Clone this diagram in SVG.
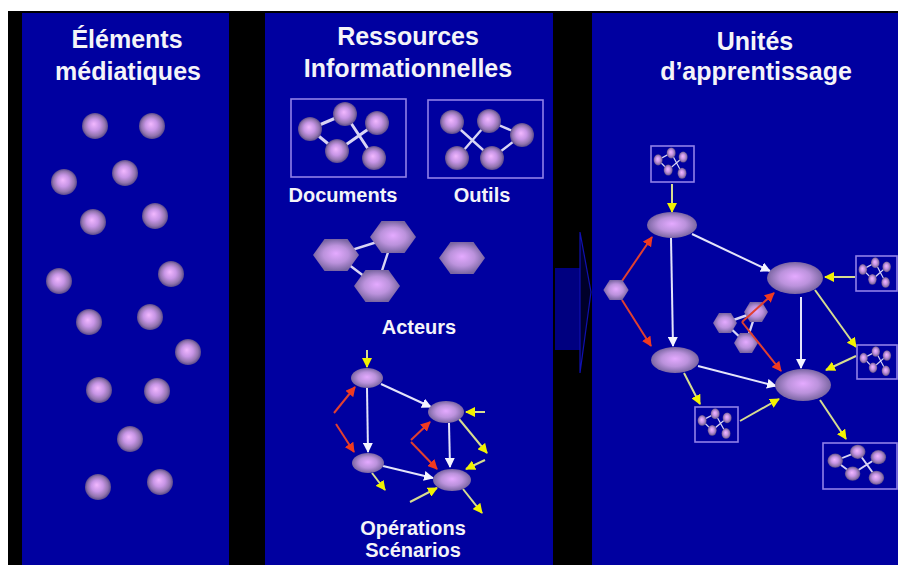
<svg xmlns="http://www.w3.org/2000/svg" xmlns:xlink="http://www.w3.org/1999/xlink" width="898" height="565" viewBox="0 0 898 565">
<style>
.t{font-family:"Liberation Sans",Arial,sans-serif;font-weight:bold;fill:#f4f4f8;text-anchor:middle}
.h{font-size:25px}
.l{font-size:20px}
.panel{fill:#0000a0}
.box{fill:none;stroke:#9080e8;stroke-width:1.6}
.lk{stroke:#d8d4f4;stroke-width:2.4;fill:none}
.aw{stroke:#e4e4fa;stroke-width:2;fill:none}
.ay{stroke:#d6dc90;stroke-width:2;fill:none}
.ar{stroke:#e04030;stroke-width:2;fill:none}
.sp{fill:url(#gS)}
.nd{fill:url(#gE)}
</style>
<defs>
<radialGradient id="gS" cx="50%" cy="50%" r="50%" fx="45%" fy="42%">
<stop offset="0" stop-color="#f2b8ff"/>
<stop offset="0.45" stop-color="#c896e6"/>
<stop offset="0.8" stop-color="#9274ae"/>
<stop offset="1" stop-color="#5a4a8c"/>
</radialGradient>
<radialGradient id="gE" cx="50%" cy="50%" r="50%" fx="50%" fy="45%">
<stop offset="0" stop-color="#e4aaff"/>
<stop offset="0.55" stop-color="#bb92dc"/>
<stop offset="1" stop-color="#7a66a2"/>
</radialGradient>
<polygon id="hx" points="-23,0 -11.5,-16 11.5,-16 23,0 11.5,16 -11.5,16" fill="url(#gE)"/>
<symbol id="mol" viewBox="0 0 115 78" preserveAspectRatio="none">
<path d="M19,30 L54,15 M19,30 L46,52 M54,15 L83,59 M46,52 L86,24" stroke="#d8d4f4" stroke-width="3" fill="none"/>
<circle cx="19" cy="30" r="12" class="sp"/>
<circle cx="54" cy="15" r="12" class="sp"/>
<circle cx="86" cy="24" r="12" class="sp"/>
<circle cx="46" cy="52" r="12" class="sp"/>
<circle cx="83" cy="59" r="12" class="sp"/>
</symbol>
<marker id="mw" viewBox="0 0 10 10" refX="9" refY="5" markerWidth="10" markerHeight="10" markerUnits="userSpaceOnUse" orient="auto"><path d="M0,0 L10,5 L0,10 z" fill="#f4f4ff"/></marker>
<marker id="my" viewBox="0 0 10 10" refX="9" refY="5" markerWidth="10" markerHeight="10" markerUnits="userSpaceOnUse" orient="auto"><path d="M0,0 L10,5 L0,10 z" fill="#f2f200"/></marker>
<marker id="mr" viewBox="0 0 10 10" refX="9" refY="5" markerWidth="10" markerHeight="10" markerUnits="userSpaceOnUse" orient="auto"><path d="M0,0 L10,5 L0,10 z" fill="#f03a20"/></marker>
</defs>
<rect width="898" height="565" fill="#ffffff"/>
<rect x="8" y="11" width="890" height="554" fill="#000000"/>
<g id="panels">
<rect class="panel" x="22" y="13" width="207" height="552"/>
<rect class="panel" x="265" y="13" width="288" height="552"/>
<rect class="panel" x="592" y="13" width="306" height="552"/>
<rect x="555" y="268" width="25" height="82" fill="#0000a0" opacity="0.8"/>
<polygon points="580,232 591,292 580,373" fill="#00002a" stroke="#1010b0" stroke-width="1.2"/>
</g>
<g id="titles">
<text class="t h" x="127" y="48">Éléments</text>
<text class="t h" x="128" y="80">médiatiques</text>
<text class="t h" x="408" y="45">Ressources</text>
<text class="t h" x="408" y="77">Informationnelles</text>
<text class="t h" x="755" y="50">Unités</text>
<text class="t h" x="756" y="80">d’apprentissage</text>
</g>
<g id="media-elements">
<circle class="sp" cx="95" cy="126" r="13"/>
<circle class="sp" cx="152" cy="126" r="13"/>
<circle class="sp" cx="64" cy="182" r="13"/>
<circle class="sp" cx="125" cy="173" r="13"/>
<circle class="sp" cx="93" cy="222" r="13"/>
<circle class="sp" cx="155" cy="216" r="13"/>
<circle class="sp" cx="59" cy="281" r="13"/>
<circle class="sp" cx="171" cy="274" r="13"/>
<circle class="sp" cx="89" cy="322" r="13"/>
<circle class="sp" cx="150" cy="317" r="13"/>
<circle class="sp" cx="188" cy="352" r="13"/>
<circle class="sp" cx="99" cy="390" r="13"/>
<circle class="sp" cx="157" cy="391" r="13"/>
<circle class="sp" cx="130" cy="439" r="13"/>
<circle class="sp" cx="98" cy="487" r="13"/>
<circle class="sp" cx="160" cy="482" r="13"/>
</g>
<g id="documents">
<rect class="box" x="291" y="99" width="115" height="78"/>
<use xlink:href="#mol" href="#mol" x="291" y="99" width="115" height="78"/>
<text class="t l" x="343" y="202">Documents</text>
</g>
<g id="outils">
<rect class="box" x="428" y="100" width="115" height="78"/>
<path class="lk" d="M452,122 L492,158 M489,121 L457,158 M489,121 L522,135 M522,135 L492,158"/>
<circle class="sp" cx="452" cy="122" r="12"/>
<circle class="sp" cx="489" cy="121" r="12"/>
<circle class="sp" cx="522" cy="135" r="12"/>
<circle class="sp" cx="457" cy="158" r="12"/>
<circle class="sp" cx="492" cy="158" r="12"/>
<text class="t l" x="482" y="202">Outils</text>
</g>
<g id="acteurs">
<path class="lk" d="M336,255 L393,237 M393,237 L377,286 M336,255 L377,286"/>
<use xlink:href="#hx" href="#hx" transform="translate(336,255)"/>
<use xlink:href="#hx" href="#hx" transform="translate(393,237)"/>
<use xlink:href="#hx" href="#hx" transform="translate(377,286)"/>
<use xlink:href="#hx" href="#hx" transform="translate(462,258)"/>
<text class="t l" x="419" y="334">Acteurs</text>
</g>
<g id="scenario-connectors">
<line class="ay" x1="367" y1="350" x2="367" y2="367" marker-end="url(#my)"/>
<line class="aw" x1="367" y1="388" x2="368" y2="452" marker-end="url(#mw)"/>
<line class="aw" x1="381" y1="384" x2="431" y2="407" marker-end="url(#mw)"/>
<line class="aw" x1="449" y1="423" x2="450" y2="467" marker-end="url(#mw)"/>
<line class="aw" x1="383" y1="466" x2="433" y2="478" marker-end="url(#mw)"/>
<line class="ar" x1="334" y1="413" x2="355" y2="387" marker-end="url(#mr)"/>
<line class="ar" x1="336" y1="424" x2="354" y2="452" marker-end="url(#mr)"/>
<line class="ar" x1="411" y1="440" x2="430" y2="422" marker-end="url(#mr)"/>
<line class="ar" x1="411" y1="442" x2="437" y2="469" marker-end="url(#mr)"/>
<line class="ay" x1="485" y1="412" x2="466" y2="412" marker-end="url(#my)"/>
<line class="ay" x1="459" y1="419" x2="487" y2="453" marker-end="url(#my)"/>
<line class="ay" x1="485" y1="460" x2="466" y2="469" marker-end="url(#my)"/>
<line class="ay" x1="410" y1="502" x2="437" y2="488" marker-end="url(#my)"/>
<line class="ay" x1="463" y1="489" x2="482" y2="513" marker-end="url(#my)"/>
<line class="ay" x1="372" y1="473" x2="385" y2="490" marker-end="url(#my)"/>
</g>
<g id="scenario-nodes">
<ellipse class="nd" cx="367" cy="378" rx="16" ry="10"/>
<ellipse class="nd" cx="446" cy="412" rx="18" ry="11"/>
<ellipse class="nd" cx="368" cy="463" rx="16" ry="10"/>
<ellipse class="nd" cx="452" cy="480" rx="19" ry="11"/>
<text class="t l" x="413" y="535">Opérations</text>
<text class="t l" x="413" y="557">Scénarios</text>
</g>
<g id="unit-connectors">
<line class="ay" x1="672" y1="184" x2="672" y2="212" marker-end="url(#my)"/>
<line class="aw" x1="671" y1="238" x2="673" y2="346" marker-end="url(#mw)"/>
<line class="ar" x1="622" y1="281" x2="652" y2="237" marker-end="url(#mr)"/>
<line class="ar" x1="622" y1="300" x2="651" y2="346" marker-end="url(#mr)"/>
<line class="aw" x1="692" y1="234" x2="770" y2="271" marker-end="url(#mw)"/>
<line class="ay" x1="855" y1="277" x2="825" y2="277" marker-end="url(#my)"/>
<line class="ay" x1="815" y1="290" x2="856" y2="347" marker-end="url(#my)"/>
<line class="ay" x1="856" y1="356" x2="826" y2="370" marker-end="url(#my)"/>
<line class="aw" x1="801" y1="297" x2="801" y2="368" marker-end="url(#mw)"/>
<line class="aw" x1="698" y1="366" x2="776" y2="386" marker-end="url(#mw)"/>
<line class="ay" x1="684" y1="373" x2="700" y2="404" marker-end="url(#my)"/>
<line class="ay" x1="740" y1="421" x2="779" y2="399" marker-end="url(#my)"/>
<line class="ay" x1="820" y1="400" x2="846" y2="439" marker-end="url(#my)"/>
</g>
<g id="unit-actors">
<path class="lk" d="M725,323 L756,312 M756,312 L746,343 M725,323 L746,343" stroke-width="2"/>
<use xlink:href="#hx" href="#hx" transform="translate(616,290) scale(0.55,0.63)"/>
<use xlink:href="#hx" href="#hx" transform="translate(725,323) scale(0.52,0.62)"/>
<use xlink:href="#hx" href="#hx" transform="translate(756,312) scale(0.52,0.62)"/>
<use xlink:href="#hx" href="#hx" transform="translate(746,343) scale(0.52,0.62)"/>
<path class="ar" d="M742,322 L774,293" marker-end="url(#mr)"/>
<path class="ar" d="M742,322 L781,371" marker-end="url(#mr)"/>
</g>
<g id="unit-nodes">
<ellipse class="nd" cx="672" cy="225" rx="25" ry="13"/>
<ellipse class="nd" cx="675" cy="360" rx="24" ry="13"/>
<ellipse class="nd" cx="795" cy="278" rx="28" ry="16"/>
<ellipse class="nd" cx="803" cy="385" rx="28" ry="16"/>
</g>
<g id="unit-resources">
<rect class="box" x="651" y="146" width="43" height="36"/>
<use xlink:href="#mol" href="#mol" x="651" y="146" width="43" height="36"/>
<rect class="box" x="856" y="256" width="41" height="35"/>
<use xlink:href="#mol" href="#mol" x="856" y="256" width="41" height="35"/>
<rect class="box" x="857" y="345" width="40" height="34"/>
<use xlink:href="#mol" href="#mol" x="857" y="345" width="40" height="34"/>
<rect class="box" x="695" y="407" width="43" height="35"/>
<use xlink:href="#mol" href="#mol" x="695" y="407" width="43" height="35"/>
<rect class="box" x="823" y="443" width="74" height="46"/>
<use xlink:href="#mol" href="#mol" x="823" y="443" width="74" height="46"/>
</g>
</svg>
